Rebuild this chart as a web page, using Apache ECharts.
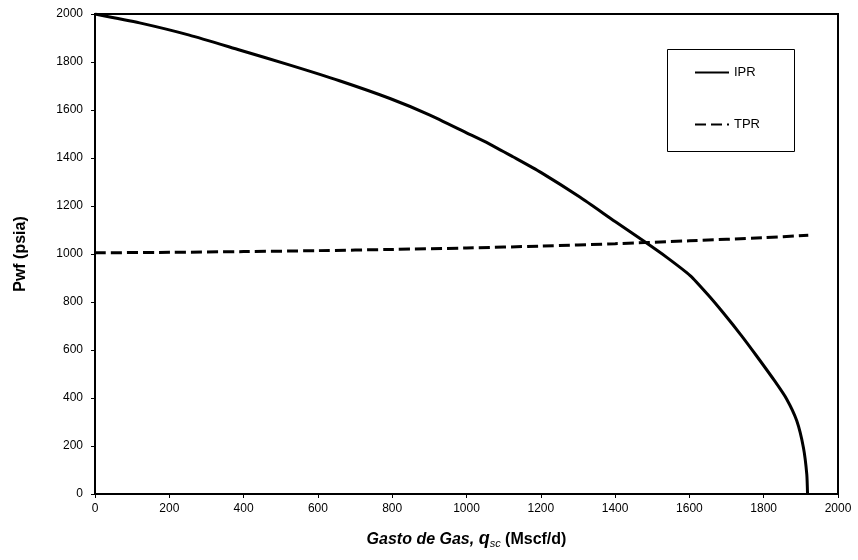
<!DOCTYPE html>
<html>
<head>
<meta charset="utf-8">
<script src="https://cdn.jsdelivr.net/npm/echarts@6/dist/echarts.min.js"></script>
<style>
  html,body{margin:0;padding:0;background:#fff;}
  #chart{width:858px;height:560px;}
</style>
</head>
<body>
<div id="chart"></div>
<script>
// IPR curve: [qsc, pwf]
const iprQ = [0, 120, 254, 389, 525, 658, 794, 900, 1000, 1060, 1125, 1200, 1305, 1400, 1475, 1540, 1602, 1650, 1691, 1740, 1781, 1830, 1862, 1889, 1907, 1916, 1918];
const iprP = [2000, 1963, 1912, 1850, 1787, 1722, 1648, 1580, 1505, 1460, 1405, 1340, 1237, 1135, 1056, 985, 910, 830, 755, 660, 575, 470, 395, 305, 193, 82, 0];
// TPR curve
const tprQ = [0, 200, 400, 600, 800, 1000, 1200, 1400, 1600, 1800, 1920];
const tprP = [1005, 1007, 1010, 1014, 1019, 1025, 1033, 1043, 1055, 1068, 1078];

const xTicks = {min: 0, max: 2000, interval: 200};
const yTicks = {min: 0, max: 2000, interval: 200};

const chart = echarts.init(document.getElementById('chart'));
const font = 'Liberation Sans, Arial, sans-serif';

const option = {
  backgroundColor: '#fff',
  animation: false,
  textStyle: {fontFamily: font},
  grid: {
    left: 95, right: 20, top: 14, bottom: 66,
    show: true, borderColor: '#000', borderWidth: 2
  },
  xAxis: {
    type: 'value',
    min: xTicks.min, max: xTicks.max, interval: xTicks.interval,
    axisLine: {show: true, lineStyle: {color: '#000', width: 2}},
    axisTick: {show: true, length: 4, lineStyle: {color: '#000'}},
    axisLabel: {color: '#000', fontSize: 12, margin: 9, fontFamily: font, formatter: v => String(v)},
    splitLine: {show: false},
    name: '{i|Gasto de Gas, }{q|q}{s|sc}{b| (Mscf/d)}',
    nameLocation: 'middle',
    nameGap: 36,
    nameTextStyle: {
      rich: {
        i: {fontSize: 16, fontWeight: 'bold', fontStyle: 'italic', color: '#000', fontFamily: font},
        q: {fontSize: 18, fontWeight: 'bold', fontStyle: 'italic', color: '#000', fontFamily: font},
        s: {fontSize: 11, fontStyle: 'italic', color: '#000', fontFamily: font, padding: [8, 0, 0, 0]},
        b: {fontSize: 16, fontWeight: 'bold', color: '#000', fontFamily: font}
      }
    }
  },
  yAxis: {
    type: 'value',
    min: yTicks.min, max: yTicks.max, interval: yTicks.interval,
    axisLine: {show: true, lineStyle: {color: '#000', width: 2}},
    axisTick: {show: true, length: 4, lineStyle: {color: '#000'}},
    axisLabel: {color: '#000', fontSize: 12, margin: 12, fontFamily: font, formatter: v => String(v)},
    splitLine: {show: false},
    name: 'Pwf (psia)',
    nameLocation: 'middle',
    nameGap: 66,
    nameTextStyle: {fontSize: 16, fontWeight: 'bold', color: '#000', fontFamily: font}
  },
  legend: {
    orient: 'vertical',
    left: 694, top: 66,
    padding: 0,
    itemGap: 39,
    itemWidth: 34, itemHeight: 14,
    itemStyle: {color: 'transparent', borderWidth: 0},
    textStyle: {fontSize: 13, color: '#000', fontFamily: font},
    data: ['IPR', 'TPR']
  },
  graphic: [{
    type: 'rect',
    shape: {x: 667.5, y: 49.5, width: 127, height: 102},
    style: {fill: 'none', stroke: '#000', lineWidth: 1},
    z: 0
  }],
  series: [
    {
      name: 'IPR',
      type: 'line',
      smooth: 0.2,
      symbol: 'none',
      lineStyle: {color: '#000', width: 3},
      itemStyle: {color: '#000'},
      data: iprQ.map((q, i) => [q, iprP[i]])
    },
    {
      name: 'TPR',
      type: 'line',
      smooth: 0.3,
      symbol: 'none',
      lineStyle: {color: '#000', width: 3, type: [11, 5]},
      itemStyle: {color: '#000'},
      data: tprQ.map((q, i) => [q, tprP[i]])
    }
  ]
};

chart.setOption(option);
</script>
</body>
</html>
